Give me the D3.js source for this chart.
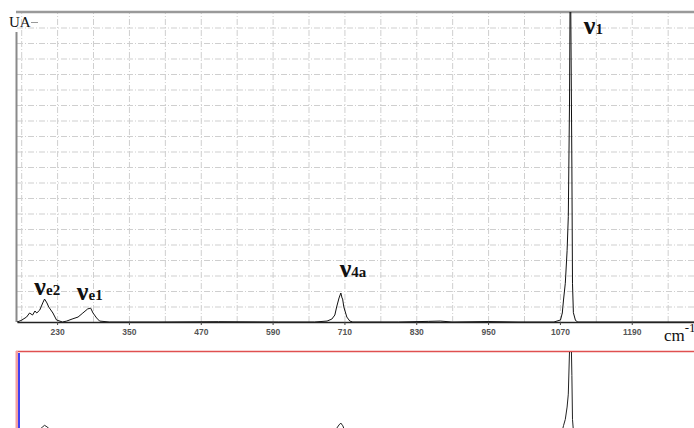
<!DOCTYPE html>
<html>
<head>
<meta charset="utf-8">
<script src="https://cdn.jsdelivr.net/npm/d3@7"></script>
<style>
  body { margin: 0; background: #fff; }
  svg { display: block; }
  .grid line { stroke: #cfcfcf; stroke-dasharray: 6,2,1,2; }
  .grid path { display: none; }
</style>
</head>
<body>
<svg id="spectrum" width="694" height="428"></svg>
<script>
// Raman spectrum (wavenumber, intensity in grid units)
const wavenumbers = [163, 170, 179, 184, 189, 193, 196, 201, 206, 209, 213, 216, 223, 229, 239,
  246, 255, 265, 273, 281, 286, 290, 296, 301, 317, 400, 500, 600, 660,
  681, 689, 694, 697, 701, 704, 706, 707, 709, 714, 719, 724, 800, 850, 870, 890, 950, 1000,
  1060, 1071, 1074, 1076, 1079, 1082, 1084, 1086, 1087, 1088, 1090, 1091, 1092.5, 1096, 1100, 1294];
const intensity = [0, 0.1, 0.32, 0.58, 0.45, 0.71, 0.58, 0.77, 1.23, 1.48, 1.23, 0.97, 0.58, 0.13, 0,
  0.06, 0.19, 0.32, 0.58, 0.84, 0.9, 0.58, 0.26, 0.06, 0, 0, 0.02, 0, 0,
  0.06, 0.19, 0.45, 0.97, 1.55, 1.87, 1.55, 1.48, 0.97, 0.32, 0.06, 0, 0, 0.04, 0.06, 0, 0.03, 0,
  0, 0.13, 0.58, 1.42, 2.5, 4.6, 6.8, 14, 21, 21, 10, 2.5, 0.6, 0.1, 0, 0];

const xTicks = [230, 350, 470, 590, 710, 830, 950, 1070, 1190];
const xGrid = d3.range(170, 1291, 60);
const yGrid = d3.range(1, 20);

// band labels: [main, suffix, wavenumber, height]
const bands = [
  ['ν', 'e2', 192, 1.75],
  ['ν', 'e1', 263, 1.4],
  ['ν', '4a', 702, 2.9],
  ['ν', '1', 1110, 18.6]
];

(function() {
const svg = d3.select('svg#spectrum');
const pl = 17, pr = 694, pt = 12, pb = 322;

const x = d3.scaleLinear().domain([163, 1294]).range([pl, pr]);
const y = d3.scaleLinear().domain([0, 20]).range([pb, pt]);
const y2 = d3.scaleLinear().domain([0, 14]).range([434, 352]);

const pts = wavenumbers.map((w, i) => [w, intensity[i]]);

svg.append('clipPath').attr('id', 'clipTop')
  .append('rect').attr('x', pl).attr('y', pt).attr('width', pr - pl).attr('height', pb - pt + 1);
svg.append('clipPath').attr('id', 'clipBottom')
  .append('rect').attr('x', pl).attr('y', 352).attr('width', pr - pl).attr('height', 80);

// grid
svg.append('g').attr('class', 'grid')
  .attr('transform', `translate(0,${pb})`)
  .call(d3.axisBottom(x).tickValues(xGrid).tickSize(-(pb - pt)).tickFormat(''));
svg.append('g').attr('class', 'grid')
  .attr('transform', `translate(${pl},0)`)
  .call(d3.axisLeft(y).tickValues(yGrid).tickSize(-(pr - pl)).tickFormat(''));

// frame
svg.append('line').attr('x1', 16).attr('x2', pr).attr('y1', pt).attr('y2', pt)
  .attr('stroke', '#9a9a9a').attr('stroke-width', 2.5);
svg.append('line').attr('x1', 16.5).attr('x2', 16.5).attr('y1', 32).attr('y2', pb)
  .attr('stroke', '#8a8a8a').attr('stroke-width', 2);
svg.append('line').attr('x1', 31).attr('x2', 38).attr('y1', 22.5).attr('y2', 22.5)
  .attr('stroke', '#999').attr('stroke-width', 1);

svg.append('text').attr('x', 9).attr('y', 27)
  .attr('font-family', 'Liberation Serif, serif').attr('font-size', 15).attr('fill', '#111')
  .text('UA');

// spectrum line
const line = d3.line().x(d => x(d[0])).y(d => y(d[1]));
svg.append('path').datum(pts).attr('d', line)
  .attr('clip-path', 'url(#clipTop)')
  .attr('fill', 'none').attr('stroke', '#111').attr('stroke-width', 1);

// x axis
const xAxis = svg.append('g').attr('transform', `translate(0,${pb})`)
  .call(d3.axisBottom(x).tickValues(xTicks).tickFormat(d3.format('d'))
    .tickSize(3).tickSizeOuter(0).tickPadding(4));
xAxis.select('.domain').attr('stroke', '#222').attr('stroke-width', 1.5);
xAxis.selectAll('.tick line').attr('stroke', '#444');
xAxis.selectAll('.tick text')
  .attr('font-family', 'Liberation Sans, Arial, sans-serif').attr('font-size', 8.5)
  .attr('font-weight', 'bold').attr('fill', '#555');

// unit
const unit = svg.append('text').attr('x', 664).attr('y', 341)
  .attr('font-family', 'Liberation Serif, serif').attr('font-size', 17).attr('fill', '#111');
unit.append('tspan').text('cm');
unit.append('tspan').attr('dy', -9).attr('font-size', 13).text('-1');

// band labels
bands.forEach(([main, sub, w, h]) => {
  const t = svg.append('text').attr('x', x(w)).attr('y', y(h))
    .attr('font-family', 'Liberation Serif, serif').attr('font-weight', 'bold').attr('fill', '#111');
  t.append('tspan').attr('font-size', 26).text(main);
  t.append('tspan').attr('font-size', 15).text(sub);
});

// lower panel
svg.append('line').attr('x1', 16).attr('x2', pr).attr('y1', 351.5).attr('y2', 351.5)
  .attr('stroke', '#e05050').attr('stroke-width', 1.5);
svg.append('rect').attr('x', 15.5).attr('y', 351).attr('width', 2.5).attr('height', 77)
  .attr('fill', '#f4a0a0');
svg.append('line').attr('x1', 19).attr('x2', 19).attr('y1', 353).attr('y2', 428)
  .attr('stroke', '#0000ee').attr('stroke-width', 1.5);

const line2 = d3.line().x(d => x(d[0])).y(d => y2(d[1]));
svg.append('path').datum(pts).attr('d', line2)
  .attr('clip-path', 'url(#clipBottom)')
  .attr('fill', 'none').attr('stroke', '#222').attr('stroke-width', 1);
})();
</script>
</body>
</html>
